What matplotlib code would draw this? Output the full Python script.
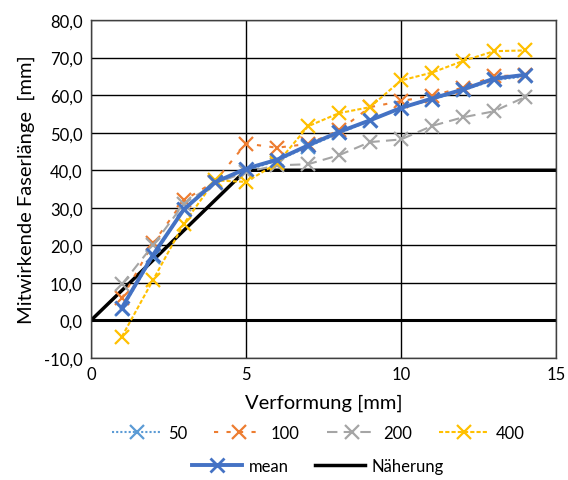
import matplotlib
matplotlib.use("Agg")
import matplotlib.pyplot as plt
from matplotlib.ticker import FuncFormatter

plt.rcParams['font.family'] = ['Lato', 'DejaVu Sans']

x = list(range(1, 15))
s50 = [3.0, 17.0, 29.5, 36.8, 40.0, 42.5, 46.3, 49.8, 53.2, 56.5, 58.8, 61.3, 64.0, 65.0]
s100 = [5.9, 20.5, 32.0, 37.0, 47.1, 46.0, 47.0, 50.6, 56.8, 58.4, 59.9, 62.0, 65.0, 65.4]
s200 = [9.6, 20.0, 31.1, 36.5, 39.5, 41.3, 41.6, 44.0, 47.5, 48.2, 51.8, 54.1, 55.7, 59.5]
s400 = [-4.3, 10.7, 25.8, 37.3, 36.9, 41.8, 51.7, 55.2, 56.8, 63.9, 66.0, 69.1, 71.7, 71.9]
mean = [3.4, 17.4, 29.6, 36.8, 40.4, 42.8, 46.6, 50.2, 53.3, 56.6, 59.1, 61.5, 64.4, 65.4]
approx_x = [0, 5, 15]
approx_y = [0, 40, 40]

fig = plt.figure(figsize=(5.68, 4.81), dpi=100)
ax = fig.add_axes([0.160, 0.2536, 0.819, 0.7027])

mk = dict(marker='x', markersize=10, markeredgewidth=1.6)
l50, = ax.plot(x, s50, color='#5B9BD5', lw=1.5, ls=(0, (1, 1)), label='50', **mk)
l100, = ax.plot(x, s100, color='#ED7D31', lw=1.5, ls=(0, (2, 4)), label='100', **mk)
l200, = ax.plot(x, s200, color='#A5A5A5', lw=1.5, ls=(0, (5, 3)), label='200', **mk)
l400, = ax.plot(x, s400, color='#FFC000', lw=1.5, ls=(0, (2, 1)), label='400', **mk)
lm, = ax.plot(x, mean, color='#4472C4', lw=2.8, label='mean', marker='x', markersize=10, markeredgewidth=2)
la, = ax.plot(approx_x, approx_y, color='black', lw=2.5, label='Näherung', zorder=1.5)

ax.set_xlim(0, 15)
ax.set_ylim(-10, 80)
ax.set_xticks([0, 5, 10, 15])
ax.set_yticks(range(-10, 81, 10))
ax.yaxis.set_major_formatter(FuncFormatter(lambda v, p: f"{v:.1f}".replace('.', ',')))
ax.grid(True, color='black', lw=1.0, zorder=0)
ax.set_axisbelow(True)
ax.axhline(0, color='black', lw=2.2, zorder=1)
for sp in ax.spines.values():
    sp.set_linewidth(1.0)
    sp.set_color('#404040')
ax.tick_params(length=0, labelsize=12, pad=6)

ax.set_xlabel('Verformung [mm]', fontsize=14.5, labelpad=8)
ax.set_ylabel('Mitwirkende Faserlänge  [mm]', fontsize=14.5, labelpad=6)

leg1 = fig.legend(handles=[l50, l100, l200, l400], loc='center', bbox_to_anchor=(0.56, 0.098),
                  ncol=4, frameon=False, fontsize=12, handlelength=3, columnspacing=1.6,
                  handletextpad=0.4)
leg2 = fig.legend(handles=[lm, la], loc='center', bbox_to_anchor=(0.56, 0.029),
                  ncol=2, frameon=False, fontsize=12, handlelength=3, columnspacing=1.6,
                  handletextpad=0.4)

fig.savefig('out.png', dpi=100)
